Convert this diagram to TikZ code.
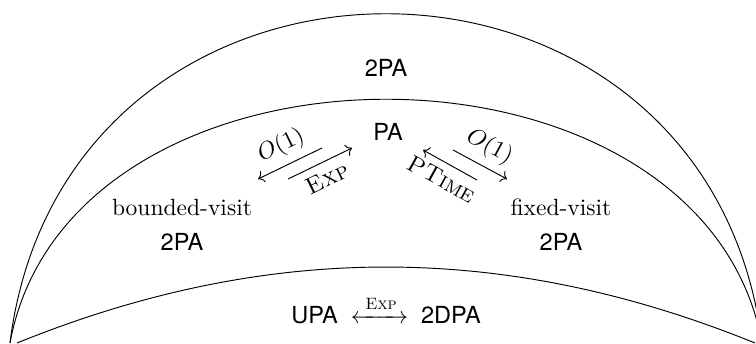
\documentclass[tikz,border=0pt]{standalone}
\usepackage{mathtools, tkz-euclide, tikz, xcolor}
\usepackage{fontspec}
\setsansfont{TeX Gyre Heros}
\usetikzlibrary{arrows.meta, calc}
\tikzset{class/.style = {align = center, inner sep = 2pt}}

\begin{document}
\begin{tikzpicture}
\useasboundingbox (0,0) rectangle (11.30,5.127);
\clip (0,0) rectangle (11.30,5.127);
% the three regions
\tkzDefPoints{0.149/0/A, 11.39/0/B, 0.971/6.562/A1, 10.568/6.562/B1}
\tkzDefPoints{1.046/4.858/A2, 10.493/4.858/B2}
\tkzDefPoints{0.254/0/C, 11.285/0/D, 3.991/1.514/C1, 7.548/1.514/D1}
\draw (A) .. controls (A1) and (B1) .. (B);
\draw (A) .. controls (A2) and (B2) .. (B);
\draw (C) .. controls (C1) and (D1) .. (D);
% classes
\node[anchor=base] (tpa) at (5.77,3.99) {\textsf{2PA}};
\node[anchor=base] (pa) at (5.80,3.034) {\textsf{PA}};
\node[class] (bv) at (2.72,1.764) {bounded-visit\\[3pt]\textsf{2PA}};
\node[class] (fv) at (8.385,1.764) {fixed-visit\\[3pt]\textsf{2PA}};
\node[anchor=base] (upa) at (5.77,0.299)
  {$\textsf{UPA}\;\xleftrightarrow{\;\textsc{Exp}\;}\;\textsf{2DPA}$};
% translations
\tkzDefPoints{3.857/2.451/P, 4.813/2.915/Q, 4.305/2.451/R, 5.262/2.915/S}
\tkzDefPoints{6.323/2.885/T, 7.130/2.436/U, 6.771/2.885/V, 7.578/2.451/W}
\draw[<-] (P) -- node[above, sloped] {$O(1)$} (Q);
\draw[->] (R) -- node[below, sloped] {\textsc{Exp}} (S);
\draw[<-] (T) -- node[below, sloped] {\textsc{PTime}} (U);
\draw[->] (V) -- node[above, sloped] {$O(1)$} (W);
\end{tikzpicture}
\end{document}
